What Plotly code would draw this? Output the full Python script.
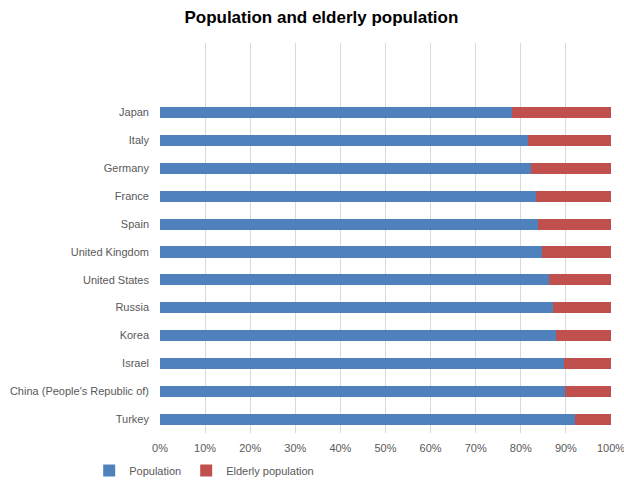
import plotly.graph_objects as go

countries = ["Turkey", "China (People's Republic of)", "Israel", "Korea", "Russia",
             "United States", "United Kingdom", "Spain", "France", "Germany", "Italy", "Japan"]
population = [92.0, 89.9, 89.5, 87.8, 87.1, 86.2, 84.6, 83.9, 83.4, 82.2, 81.5, 78.1]
elderly = [round(100 - p, 1) for p in population]
x_ticks = [0, 10, 20, 30, 40, 50, 60, 70, 80, 90, 100]
x_ticklabels = [f"{v}%" for v in x_ticks]

fig = go.Figure()
fig.add_trace(go.Bar(y=countries, x=population, orientation="h", name="Population",
                     marker=dict(color="#4F81BD", line=dict(width=0)), width=0.4))
fig.add_trace(go.Bar(y=countries, x=elderly, orientation="h", name="Elderly population",
                     marker=dict(color="#C0504D", line=dict(width=0)), width=0.4))

font_family = "Liberation Sans, Arial, sans-serif"
fig.update_layout(
    barmode="stack",
    width=624, height=481,
    margin=dict(l=160, r=13, t=43, b=48, autoexpand=False),
    paper_bgcolor="white", plot_bgcolor="white",
    title=dict(text="<b>Population and elderly population</b>", x=0.515, xanchor="center",
               y=0.965, yanchor="middle",
               font=dict(family=font_family, size=17, color="#000000")),
    font=dict(family=font_family, size=11, color="#595959"),
    showlegend=True,
    legend=dict(orientation="h", x=-0.157, xanchor="left", y=-0.059, yanchor="top",
                font=dict(size=11, color="#595959"), traceorder="normal",
                itemwidth=30),
    xaxis=dict(range=[0, 100], tickvals=x_ticks, ticktext=x_ticklabels, automargin=False,
               showgrid=True, gridcolor="#D9D9D9", gridwidth=1, zeroline=False,
               showline=False, ticks="", ticklabelstandoff=7, ticklabeloverflow="allow",
               tickfont=dict(size=11, color="#595959"), fixedrange=True),
    yaxis=dict(range=[-0.5, 13.5], categoryorder="array", categoryarray=countries,
               showgrid=False, showline=False, ticks="", ticklabelstandoff=10, automargin=False,
               tickfont=dict(size=11, color="#595959"), fixedrange=True),
)
fig.write_html("out.html", config={"displayModeBar": False},
               post_script="document.body.style.margin='0';document.body.style.overflow='hidden';")
